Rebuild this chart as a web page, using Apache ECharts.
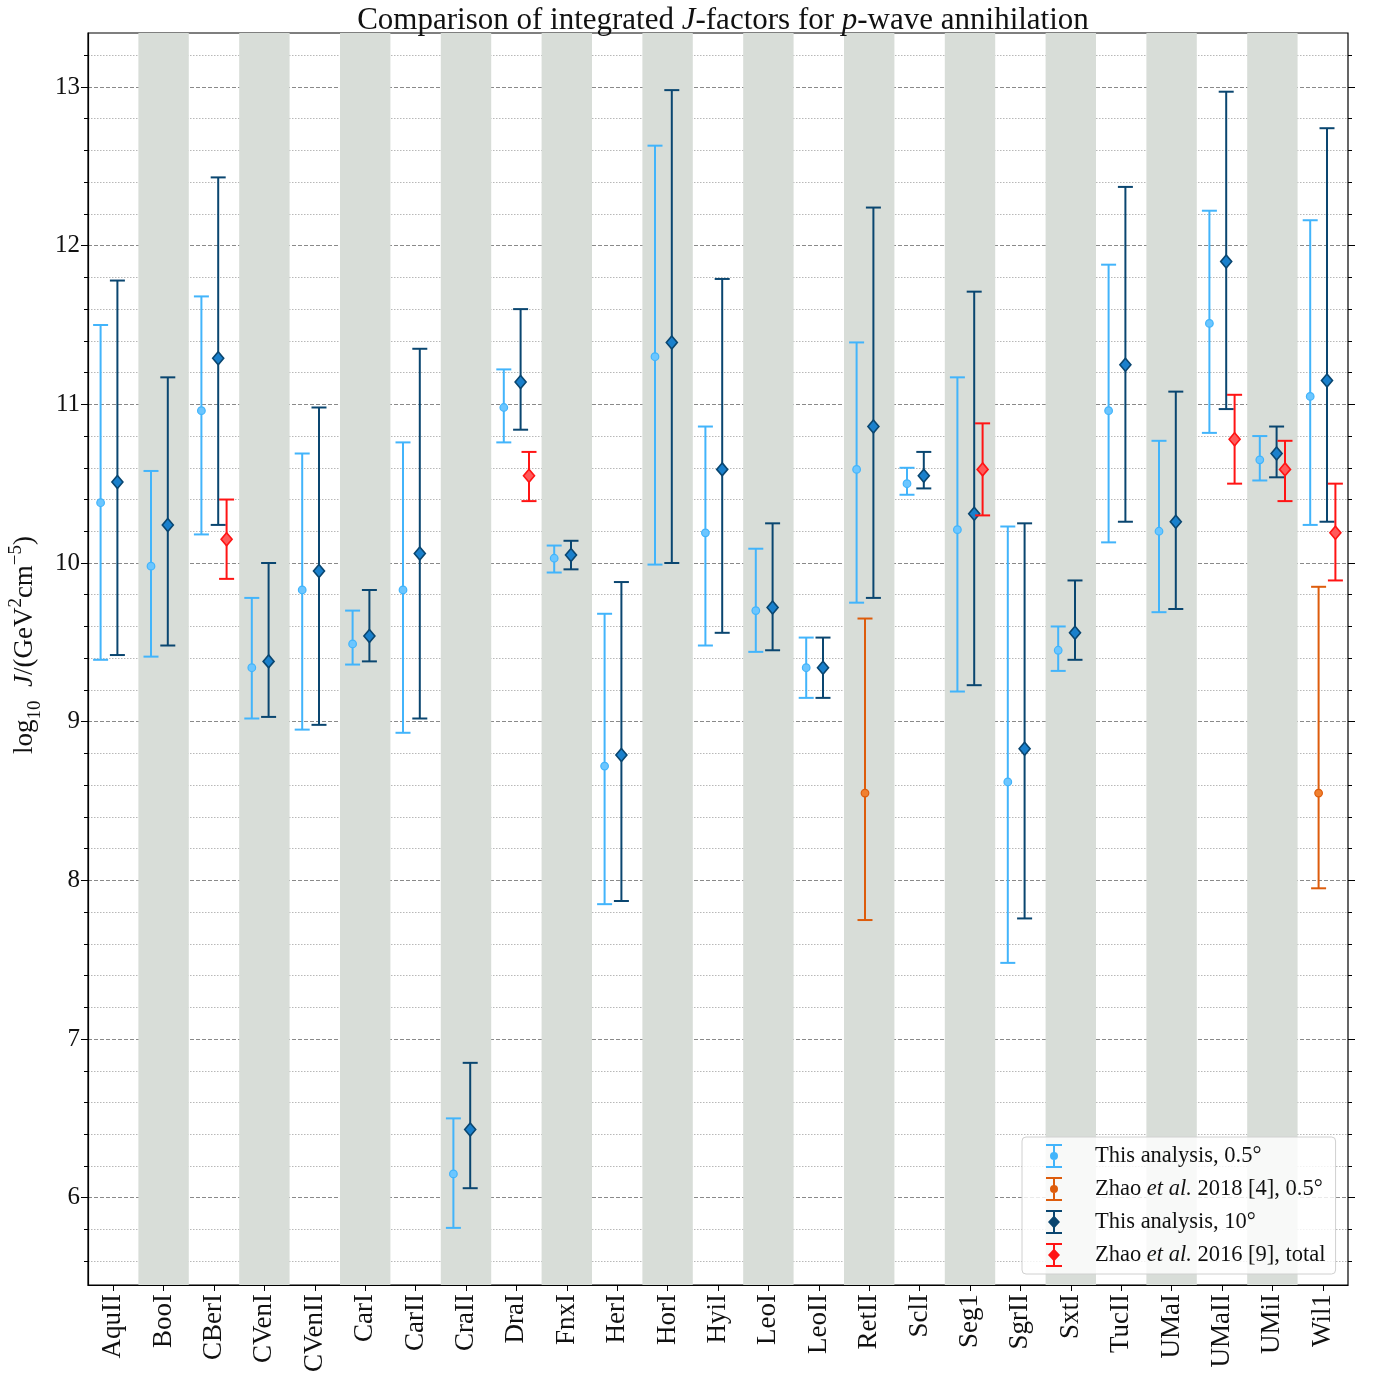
<!DOCTYPE html>
<html><head><meta charset="utf-8">
<script src="https://cdn.jsdelivr.net/npm/echarts@6/dist/echarts.min.js"></script>
<style>html,body{margin:0;padding:0;background:#fff}#c{width:1375px;height:1379px}</style>
</head><body><div id="c"></div><script>
const categories = ['AquII','BooI','CBerI','CVenI','CVenII','CarI','CarII','CraII','DraI','FnxI','HerI','HorI','HyiI','LeoI','LeoII','RetII','SclI','Seg1','SgrII','SxtI','TucII','UMaI','UMaII','UMiI','Wil1'];

// This analysis, 0.5 deg
const half_mid  = [10.38, 9.98, 10.96, 9.34, 9.83, 9.49, 9.83, 6.15, 10.98, 10.03, 8.72, 11.30, 10.19, 9.70, 9.34, 10.59, 10.50, 10.21, 8.62, 9.45, 10.96, 10.20, 11.51, 10.65, 11.05];
const half_low  = [9.39, 9.41, 10.18, 9.02, 8.95, 9.36, 8.93, 5.81, 10.76, 9.94, 7.85, 9.99, 9.48, 9.44, 9.15, 9.75, 10.43, 9.19, 7.48, 9.32, 10.13, 9.69, 10.82, 10.52, 10.24];
const half_high = [11.50, 10.58, 11.68, 9.78, 10.69, 9.70, 10.76, 6.50, 11.22, 10.11, 9.68, 12.63, 10.86, 10.09, 9.53, 11.39, 10.60, 11.17, 10.23, 9.60, 11.88, 10.77, 12.22, 10.80, 12.16];

// Zhao et al. 2018 [4], 0.5 deg
const zhao18_mid  = [null,null,null,null,null,null,null,null,null,null,null,null,null,null,null, 8.55, null,null,null,null,null,null,null,null, 8.55];
const zhao18_low  = [null,null,null,null,null,null,null,null,null,null,null,null,null,null,null, 7.75, null,null,null,null,null,null,null,null, 7.95];
const zhao18_high = [null,null,null,null,null,null,null,null,null,null,null,null,null,null,null, 9.65, null,null,null,null,null,null,null,null, 9.85];

// This analysis, 10 deg
const ten_mid  = [10.51, 10.24, 11.29, 9.38, 9.95, 9.54, 10.06, 6.43, 11.14, 10.05, 8.79, 11.39, 10.59, 9.72, 9.34, 10.86, 10.55, 10.31, 8.83, 9.56, 11.25, 10.26, 11.90, 10.69, 11.15];
const ten_low  = [9.42, 9.48, 10.24, 9.03, 8.98, 9.38, 9.02, 6.06, 10.84, 9.96, 7.87, 10.00, 9.56, 9.45, 9.15, 9.78, 10.47, 9.23, 7.76, 9.39, 10.26, 9.71, 10.97, 10.54, 10.26];
const ten_high = [11.78, 11.17, 12.43, 10.00, 10.98, 9.83, 11.35, 6.85, 11.60, 10.14, 9.88, 12.98, 11.79, 10.25, 9.53, 12.24, 10.70, 11.71, 10.25, 9.89, 12.37, 11.08, 12.97, 10.86, 12.74];

// Zhao et al. 2016 [9], total
const zhao16_mid  = [null,null,10.15,null,null,null,null,null,10.55,null,null,null,null,null,null,null,null,10.59,null,null,null,null,10.78,10.59,10.19];
const zhao16_low  = [null,null, 9.90,null,null,null,null,null,10.39,null,null,null,null,null,null,null,null,10.30,null,null,null,null,10.50,10.39, 9.89];
const zhao16_high = [null,null,10.40,null,null,null,null,null,10.70,null,null,null,null,null,null,null,null,10.88,null,null,null,null,11.06,10.77,10.50];

const yMajorTicks = [6, 7, 8, 9, 10, 11, 12, 13];
const yMinorTicks = [5.6, 5.8, 6.2, 6.4, 6.6, 6.8, 7.2, 7.4, 7.6, 7.8, 8.2, 8.4, 8.6, 8.8, 9.2, 9.4, 9.6, 9.8,
                     10.2, 10.4, 10.6, 10.8, 11.2, 11.4, 11.6, 11.8, 12.2, 12.4, 12.6, 12.8, 13.2];
const yMin = 5.45, yMax = 13.34;

const FONT = "'Liberation Serif', 'DejaVu Serif', serif";

function build(mid, low, high) {
  const out = [];
  for (let i = 0; i < categories.length; i++) {
    if (mid[i] != null) out.push([i, mid[i], low[i], high[i]]);
  }
  return out;
}

function makeRender(offset, marker, lineColor, fillColor) {
  return function (params, api) {
    const idx = api.value(0);
    const c = api.coord([idx, api.value(1)]);
    const band = api.size([1, 0])[0];
    const x = c[0] + offset * band;
    const yHi = api.coord([idx, api.value(3)])[1];
    const yLo = api.coord([idx, api.value(2)])[1];
    const cw = 7.5;
    const st = { stroke: lineColor, lineWidth: 2, fill: null };
    const ch = [
      { type: 'line', shape: { x1: x, y1: yHi, x2: x, y2: yLo }, style: st },
      { type: 'line', shape: { x1: x - cw, y1: yHi, x2: x + cw, y2: yHi }, style: st },
      { type: 'line', shape: { x1: x - cw, y1: yLo, x2: x + cw, y2: yLo }, style: st }
    ];
    if (marker === 'circle') {
      ch.push({ type: 'circle', shape: { cx: x, cy: c[1], r: 3.8 }, style: { fill: fillColor, stroke: lineColor, lineWidth: 1.2 } });
    } else {
      ch.push({ type: 'polygon', shape: { points: [[x, c[1] - 6.5], [x + 5.5, c[1]], [x, c[1] + 6.5], [x - 5.5, c[1]]] }, style: { fill: fillColor, stroke: lineColor, lineWidth: 1.6 } });
    }
    return { type: 'group', children: ch };
  };
}

const C_LIGHT = '#42b4fb', C_LIGHT_F = '#6cc6ff';
const C_OR = '#dd5c0c', C_OR_F = '#f08030';
const C_DARK = '#0a4670', C_DARK_F = '#1a80cc';
const C_RED = '#ff1414', C_RED_F = '#ff5a5a';

const iconCircle = 'path://M0,0H16V2H0Z M7,2H9V22H7Z M0,22H16V24H0Z M8,8A4,4 0 1 1 8,16A4,4 0 1 1 8,8Z';
const iconDiamond = 'path://M0,0H16V2H0Z M7,2H9V22H7Z M0,22H16V24H0Z M8,5.5L14,12L8,18.5L2,12Z';

const names = ['This analysis, 0.5°', 'Zhao et al. 2018 [4], 0.5°', 'This analysis, 10°', 'Zhao et al. 2016 [9], total'];

const chart = echarts.init(document.getElementById('c'), null, { renderer: 'canvas' });

function yAxisBase(position, ticks, tickLen, showLabel, split) {
  return {
    type: 'value', min: yMin, max: yMax, position: position,
    axisLine: { show: false },
    axisTick: { show: true, length: tickLen, customValues: ticks, lineStyle: { color: '#000', width: 1 } },
    axisLabel: showLabel
      ? { show: true, customValues: ticks, fontFamily: FONT, fontSize: 25, color: '#111', margin: 8 }
      : { show: false },
    splitLine: split
  };
}

const majorLeft = yAxisBase('left', yMajorTicks, 7, true,
  { show: true, lineStyle: { color: '#8a8a8a', width: 1, type: [4, 2] } });
majorLeft.axisLine = { show: true, lineStyle: { color: '#000', width: 1.2 } };
majorLeft.name = '{n|log}{sub|10}{n|  }{i|J}{n|/(GeV}{sup|2}{n|cm}{sup|−5}{n|)}';
majorLeft.nameLocation = 'middle';
majorLeft.nameGap = 43;
majorLeft.nameRotate = 90;
majorLeft.nameTextStyle = {
  fontFamily: FONT, fontSize: 27, color: '#111', padding: [0, 0, 0, 28],
  rich: {
    n: { fontFamily: FONT, fontSize: 27, color: '#111', lineHeight: 38 },
    i: { fontFamily: FONT, fontSize: 27, fontStyle: 'italic', color: '#111', lineHeight: 38 },
    sub: { fontFamily: FONT, fontSize: 19, color: '#111', verticalAlign: 'bottom', lineHeight: 19 },
    sup: { fontFamily: FONT, fontSize: 19, color: '#111', verticalAlign: 'top', lineHeight: 19 }
  }
};

chart.setOption({
  animation: false,
  backgroundColor: '#fff',
  title: {
    text: 'Comparison of integrated {i|J}-factors for {i|p}-wave annihilation',
    left: 718, textAlign: 'center', top: 0,
    textStyle: {
      fontFamily: FONT, fontSize: 31, fontWeight: 'normal', color: '#111',
      rich: { i: { fontFamily: FONT, fontStyle: 'italic', fontSize: 31, color: '#111' } }
    }
  },
  grid: { left: 88, right: 27, top: 33, bottom: 94, containLabel: false, outerBoundsMode: 'none',
          show: true, borderColor: '#000', borderWidth: 1.2, backgroundColor: 'transparent' },
  legend: {
    orient: 'vertical', left: 1022, top: 1137,
    padding: [7, 10, 7, 24],
    itemWidth: 16, itemHeight: 24, itemGap: 9,
    backgroundColor: 'rgba(255,255,255,0.82)', borderColor: '#d0d0d0', borderWidth: 1, borderRadius: 4,
    data: [
      { name: names[0], icon: iconCircle },
      { name: names[1], icon: iconCircle },
      { name: names[2], icon: iconDiamond },
      { name: names[3], icon: iconDiamond }
    ],
    formatter: function (n) { return n.replace('et al.', '{i|et al.}'); },
    textStyle: {
      fontFamily: FONT, fontSize: 22.5, color: '#111', padding: [0, 0, 0, 28],
      rich: { i: { fontFamily: FONT, fontStyle: 'italic', fontSize: 22.5, color: '#111' } }
    }
  },
  xAxis: {
    type: 'category', data: categories, boundaryGap: true,
    axisLine: { show: true, lineStyle: { color: '#000', width: 1.2 } },
    axisTick: { show: true, alignWithLabel: true, length: 6, lineStyle: { color: '#000' } },
    axisLabel: { interval: 0, rotate: 90, fontFamily: FONT, fontSize: 27, color: '#111', margin: 9 },
    splitLine: { show: false },
    splitArea: { show: true, interval: 0, areaStyle: { color: ['rgba(255,255,255,0)', '#d8ddd8'] } }
  },
  yAxis: [
    majorLeft,
    yAxisBase('left', yMinorTicks, 4, false, { show: true, lineStyle: { color: '#b8b8b8', width: 1, type: [1.5, 1.5] } }),
    yAxisBase('right', yMajorTicks, 7, false, { show: false }),
    yAxisBase('right', yMinorTicks, 4, false, { show: false })
  ],
  series: [
    { name: names[0], type: 'custom', yAxisIndex: 0, itemStyle: { color: C_LIGHT }, renderItem: makeRender(-0.25, 'circle', C_LIGHT, C_LIGHT_F), encode: { x: 0, y: [1, 2, 3] }, data: build(half_mid, half_low, half_high), z: 3 },
    { name: names[1], type: 'custom', yAxisIndex: 0, itemStyle: { color: C_OR }, renderItem: makeRender(-1 / 12, 'circle', C_OR, C_OR_F), encode: { x: 0, y: [1, 2, 3] }, data: build(zhao18_mid, zhao18_low, zhao18_high), z: 3 },
    { name: names[2], type: 'custom', yAxisIndex: 0, itemStyle: { color: C_DARK }, renderItem: makeRender(1 / 12, 'diamond', C_DARK, C_DARK_F), encode: { x: 0, y: [1, 2, 3] }, data: build(ten_mid, ten_low, ten_high), z: 4 },
    { name: names[3], type: 'custom', yAxisIndex: 0, itemStyle: { color: C_RED }, renderItem: makeRender(0.25, 'diamond', C_RED, C_RED_F), encode: { x: 0, y: [1, 2, 3] }, data: build(zhao16_mid, zhao16_low, zhao16_high), z: 5 }
  ]
});
</script></body></html>
